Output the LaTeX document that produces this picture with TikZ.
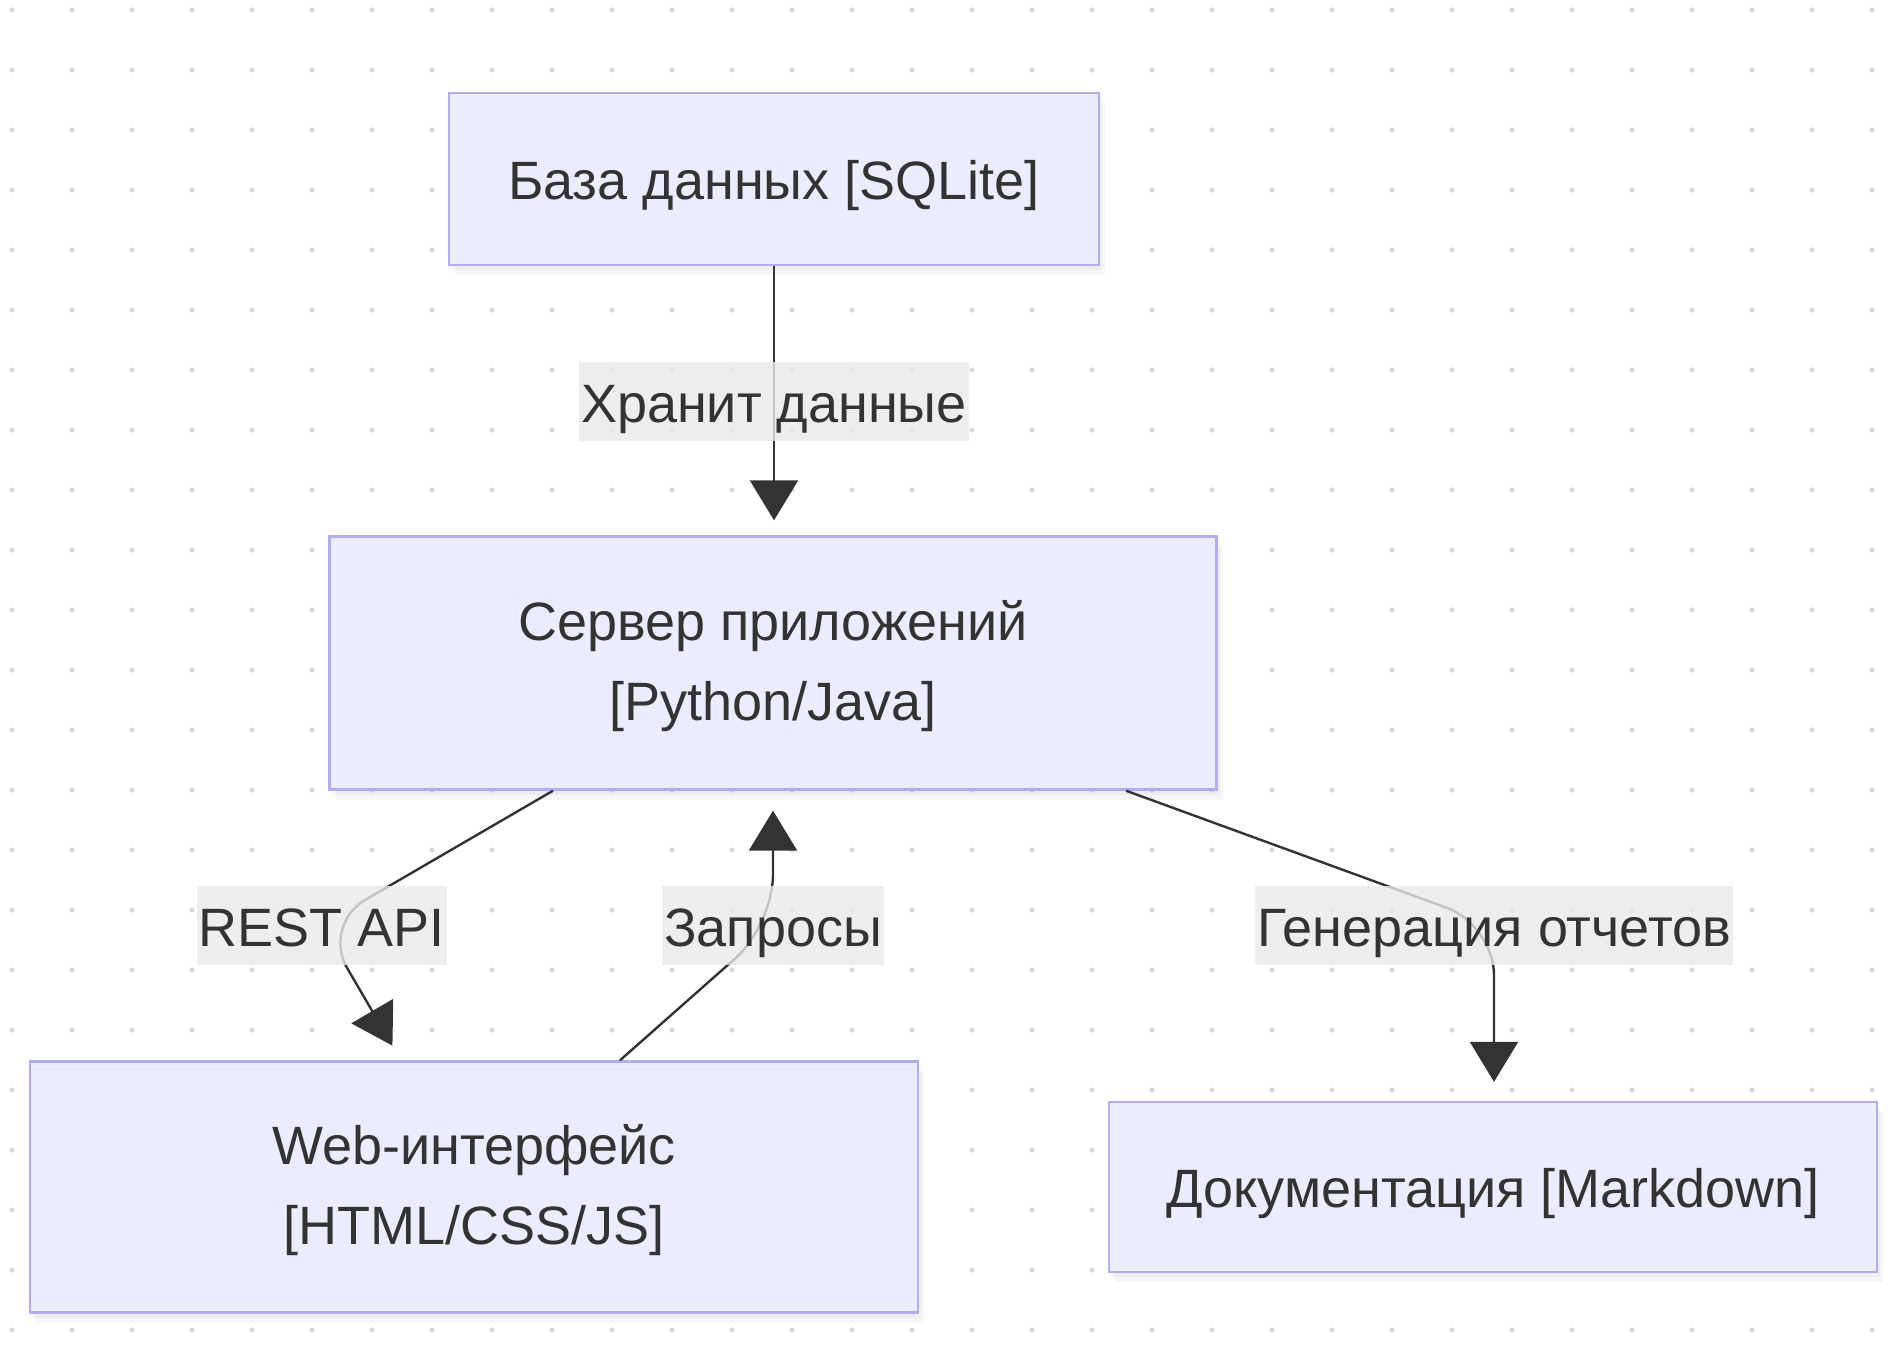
\documentclass[tikz,border=0pt]{standalone}
\usepackage{fontspec}
\setmainfont{Liberation Sans}
\usetikzlibrary{arrows.meta,calc,shadows}
\definecolor{boxfill}{RGB}{236,236,255}
\definecolor{boxline}{RGB}{178,174,238}
\definecolor{inkgray}{RGB}{51,51,51}
\definecolor{labelfill}{RGB}{232,232,232}
\definecolor{dotgray}{RGB}{218,218,218}
\tikzset{
  BoxStyle/.style = { rectangle, draw = boxline, line width = 1.2pt,
                      fill = boxfill, text = inkgray, align = center,
                      inner sep = 0pt, font = \fontsize{27}{40}\selectfont,
                      drop shadow = {opacity = 0.07, shadow xshift = 3pt,
                                     shadow yshift = -5pt},
                      drop shadow = {opacity = 0.08, shadow xshift = 1.5pt,
                                     shadow yshift = -2.5pt} },
  OneLine/.style = { text height = 25pt, text depth = 5pt },
  TwoLine/.style = { text depth = 2.7pt },
  LabelStyle/.style = { rectangle, fill = labelfill, fill opacity = 0.8,
                        text opacity = 1, text = inkgray, inner xsep = 1pt,
                        minimum height = 39.5pt, text height = 26pt,
                        text depth = 5pt,
                        font = \fontsize{27}{40}\selectfont },
  EdgeStyle/.style = { draw = inkgray, line width = 1.2pt, rounded corners = 25pt,
                       -{Triangle[length=20pt,width=24pt]} } }

\begin{document}
\begin{tikzpicture}[x=0.5pt,y=-0.5pt]
  \useasboundingbox (0,0) rectangle (1898,1364);

  \foreach \i in {0,...,31}
    \foreach \j in {0,...,22}
      \fill[dotgray] (12+60*\i,10+60*\j) circle (1.3pt);

  \node[BoxStyle, OneLine, minimum width=325pt, minimum height=86pt] (db) at (774,179)
    {База данных [SQLite]};
  \node[BoxStyle, TwoLine, minimum width=443.5pt, minimum height=126.5pt] (srv) at (773,663)
    {Сервер приложений\\{}[Python/Java]};
  \node[BoxStyle, TwoLine, minimum width=444pt, minimum height=125.5pt] (web) at (474,1187)
    {Web-интерфейс\\{}[HTML/CSS/JS]};
  \node[BoxStyle, OneLine, minimum width=384pt, minimum height=85pt] (doc) at (1493,1187)
    {Документация [Markdown]};

  \coordinate (cStore) at (774,401);
  \coordinate (cRest) at (322,925);
  \coordinate (cReq) at (773,925);
  \coordinate (cGen) at (1494,925);

  \draw[EdgeStyle, shorten >=7.5pt] (db) -- (cStore) -- (srv.north -| cStore);
  \draw[EdgeStyle, shorten >=8.5pt] ($(srv.south)+(-220,0)$) -- (cRest)
    -- ($(web.north)+(-73,0)$);
  \draw[EdgeStyle, shorten >=10pt] ($(web.north)+(146,0)$) -- (cReq)
    -- (srv.south -| cReq);
  \draw[EdgeStyle, shorten >=9.5pt] ($(srv.south)+(353,0)$) -- (cGen)
    -- (doc.north -| cGen);

  \node[LabelStyle] (lbStore) at (cStore) {Хранит данные};
  \node[LabelStyle] (lbRest) at (cRest) {REST API};
  \node[LabelStyle] (lbReq) at (cReq) {Запросы};
  \node[LabelStyle] (lbGen) at (cGen) {Генерация отчетов};
\end{tikzpicture}
\end{document}
